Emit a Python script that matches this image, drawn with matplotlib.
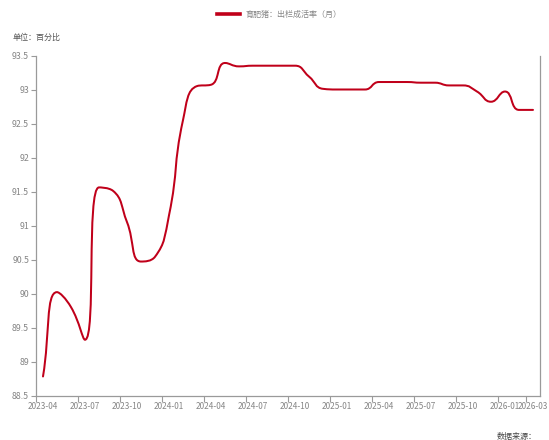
import numpy as np
import matplotlib
matplotlib.use("Agg")
import matplotlib.pyplot as plt
from matplotlib.path import Path
from matplotlib.patches import PathPatch
from matplotlib.lines import Line2D

# Monthly categories and survival-rate values (%)
months = [
    "2023-04", "2023-05", "2023-06", "2023-07", "2023-08", "2023-09",
    "2023-10", "2023-11", "2023-12", "2024-01", "2024-02", "2024-03",
    "2024-04", "2024-05", "2024-06", "2024-07", "2024-08", "2024-09",
    "2024-10", "2024-11", "2024-12", "2025-01", "2025-02", "2025-03",
    "2025-04", "2025-05", "2025-06", "2025-07", "2025-08", "2025-09",
    "2025-10", "2025-11", "2025-12", "2026-01", "2026-02", "2026-03",
]
survival_rate = [
    88.78, 90.02, 89.80, 89.32, 91.56, 91.51,
    91.05, 90.47, 90.54, 91.15, 92.55, 93.05,
    93.07, 93.39, 93.34, 93.35, 93.35, 93.35,
    93.35, 93.19, 93.01, 93.00, 93.00, 93.00,
    93.11, 93.11, 93.11, 93.10, 93.10, 93.06,
    93.06, 92.97, 92.82, 92.97, 92.70, 92.70,
]
series_name = "育肥猪：出栏成活率（月）"
y_ticks = [88.5, 89, 89.5, 90, 90.5, 91, 91.5, 92, 92.5, 93, 93.5]
label_idx = [0, 3, 6, 9, 12, 15, 18, 21, 24, 27, 30, 33, 35]

LINE_COLOR = "#c0001a"
AXIS_COLOR = "#9a9a9a"
TEXT_COLOR = "#858585"
NUM_FONT = ["Liberation Sans Narrow", "Noto Sans CJK SC"]
CJK_FONT = ["Noto Sans CJK SC", "DejaVu Sans"]

W, H = 549, 440
fig = plt.figure(figsize=(W / 100, H / 100), dpi=100)
ax = fig.add_axes([36 / W, 1 - 395.5 / H, 504 / W, 340 / H])

n = len(months)
ax.set_xlim(-0.5, n - 0.5)
ax.set_ylim(88.5, 93.5)


def smooth_path(xs, ys, smooth=0.5):
    """Bezier path through the points using a tangent rule computed in screen space."""
    pts = ax.transData.transform(np.column_stack([xs, ys]))
    m = len(pts)
    verts = [pts[0]]
    codes = [Path.MOVETO]
    cp_in = [None] * m
    cp_out = [None] * m
    for i in range(m):
        x, y = pts[i]
        px, py = pts[i - 1] if i > 0 else pts[i]
        nx, ny = pts[i + 1] if i < m - 1 else pts[i]
        vx, vy = nx - px, ny - py
        l0 = np.hypot(x - px, y - py)
        l1 = np.hypot(nx - x, ny - y)
        if l0 == 0 or l1 == 0:
            cp_in[i] = (x - (x - px) * smooth, y - (y - py) * smooth)
            cp_out[i] = (x + (nx - x) * smooth, y + (ny - y) * smooth)
            continue
        r = l1 / (l0 + l1)
        ncx = x + vx * smooth * r
        ncy = y + vy * smooth * r
        ncx = min(ncx, max(nx, x)); ncy = min(ncy, max(ny, y))
        ncx = max(ncx, min(nx, x)); ncy = max(ncy, min(ny, y))
        dx, dy = ncx - x, ncy - y
        c1x = x - dx * l0 / l1
        c1y = y - dy * l0 / l1
        c1x = min(c1x, max(px, x)); c1y = min(c1y, max(py, y))
        c1x = max(c1x, min(px, x)); c1y = max(c1y, min(py, y))
        dx, dy = x - c1x, y - c1y
        ncx = x + dx * l1 / l0
        ncy = y + dy * l1 / l0
        cp_in[i] = (c1x, c1y)
        cp_out[i] = (ncx, ncy)
    for i in range(m - 1):
        verts += [cp_out[i], cp_in[i + 1], pts[i + 1]]
        codes += [Path.CURVE4] * 3
    verts = ax.transData.inverted().transform(np.array(verts))
    return Path(verts, codes)


xs = np.arange(n)
path = smooth_path(xs, np.array(survival_rate))
ax.add_patch(PathPatch(path, facecolor="none", edgecolor=LINE_COLOR,
                       linewidth=1.45, capstyle="round", joinstyle="round",
                       clip_on=False))

# Spines
ax.spines["top"].set_visible(False)
for side in ["left", "right", "bottom"]:
    ax.spines[side].set_color(AXIS_COLOR)
    ax.spines[side].set_linewidth(0.9)

# Y axis
ax.set_yticks(y_ticks)
ax.set_yticklabels([f"{v:g}" for v in y_ticks], fontfamily=NUM_FONT,
                   fontsize=6.3, color=TEXT_COLOR)
ax.tick_params(axis="y", direction="out", length=3.5, width=0.8,
               color=AXIS_COLOR, pad=1.5)

# X axis: ticks at category boundaries, labels at category centres
ax.set_xticks([i - 0.5 for i in label_idx])
ax.set_xticklabels([])
ax.xaxis.set_minor_locator(matplotlib.ticker.FixedLocator(label_idx))
ax.set_xticklabels([months[i] for i in label_idx], minor=True,
                   fontfamily=NUM_FONT, fontsize=5.9, color=TEXT_COLOR)
ax.tick_params(axis="x", which="major", direction="out", length=4,
               width=0.8, color=AXIS_COLOR)
ax.tick_params(axis="x", which="minor", length=0, pad=5)

# Legend
fig.add_artist(Line2D([217 / W, 240 / W], [1 - 14 / H, 1 - 14 / H],
                      color=LINE_COLOR, linewidth=2.6))
fig.text(245 / W, 1 - 14 / H, series_name, fontfamily=CJK_FONT,
         fontsize=5.8, color=TEXT_COLOR, va="center", ha="left")

# Unit and source notes
fig.text(13 / W, 1 - 37 / H, "单位：百分比", fontfamily=CJK_FONT,
         fontsize=5.8, color="#555555", va="center", ha="left")
fig.text(497 / W, 1 - 436 / H, "数据来源：", fontfamily=CJK_FONT,
         fontsize=5.8, color="#444444", va="center", ha="left")

fig.savefig("out.png", dpi=100, facecolor="white")
